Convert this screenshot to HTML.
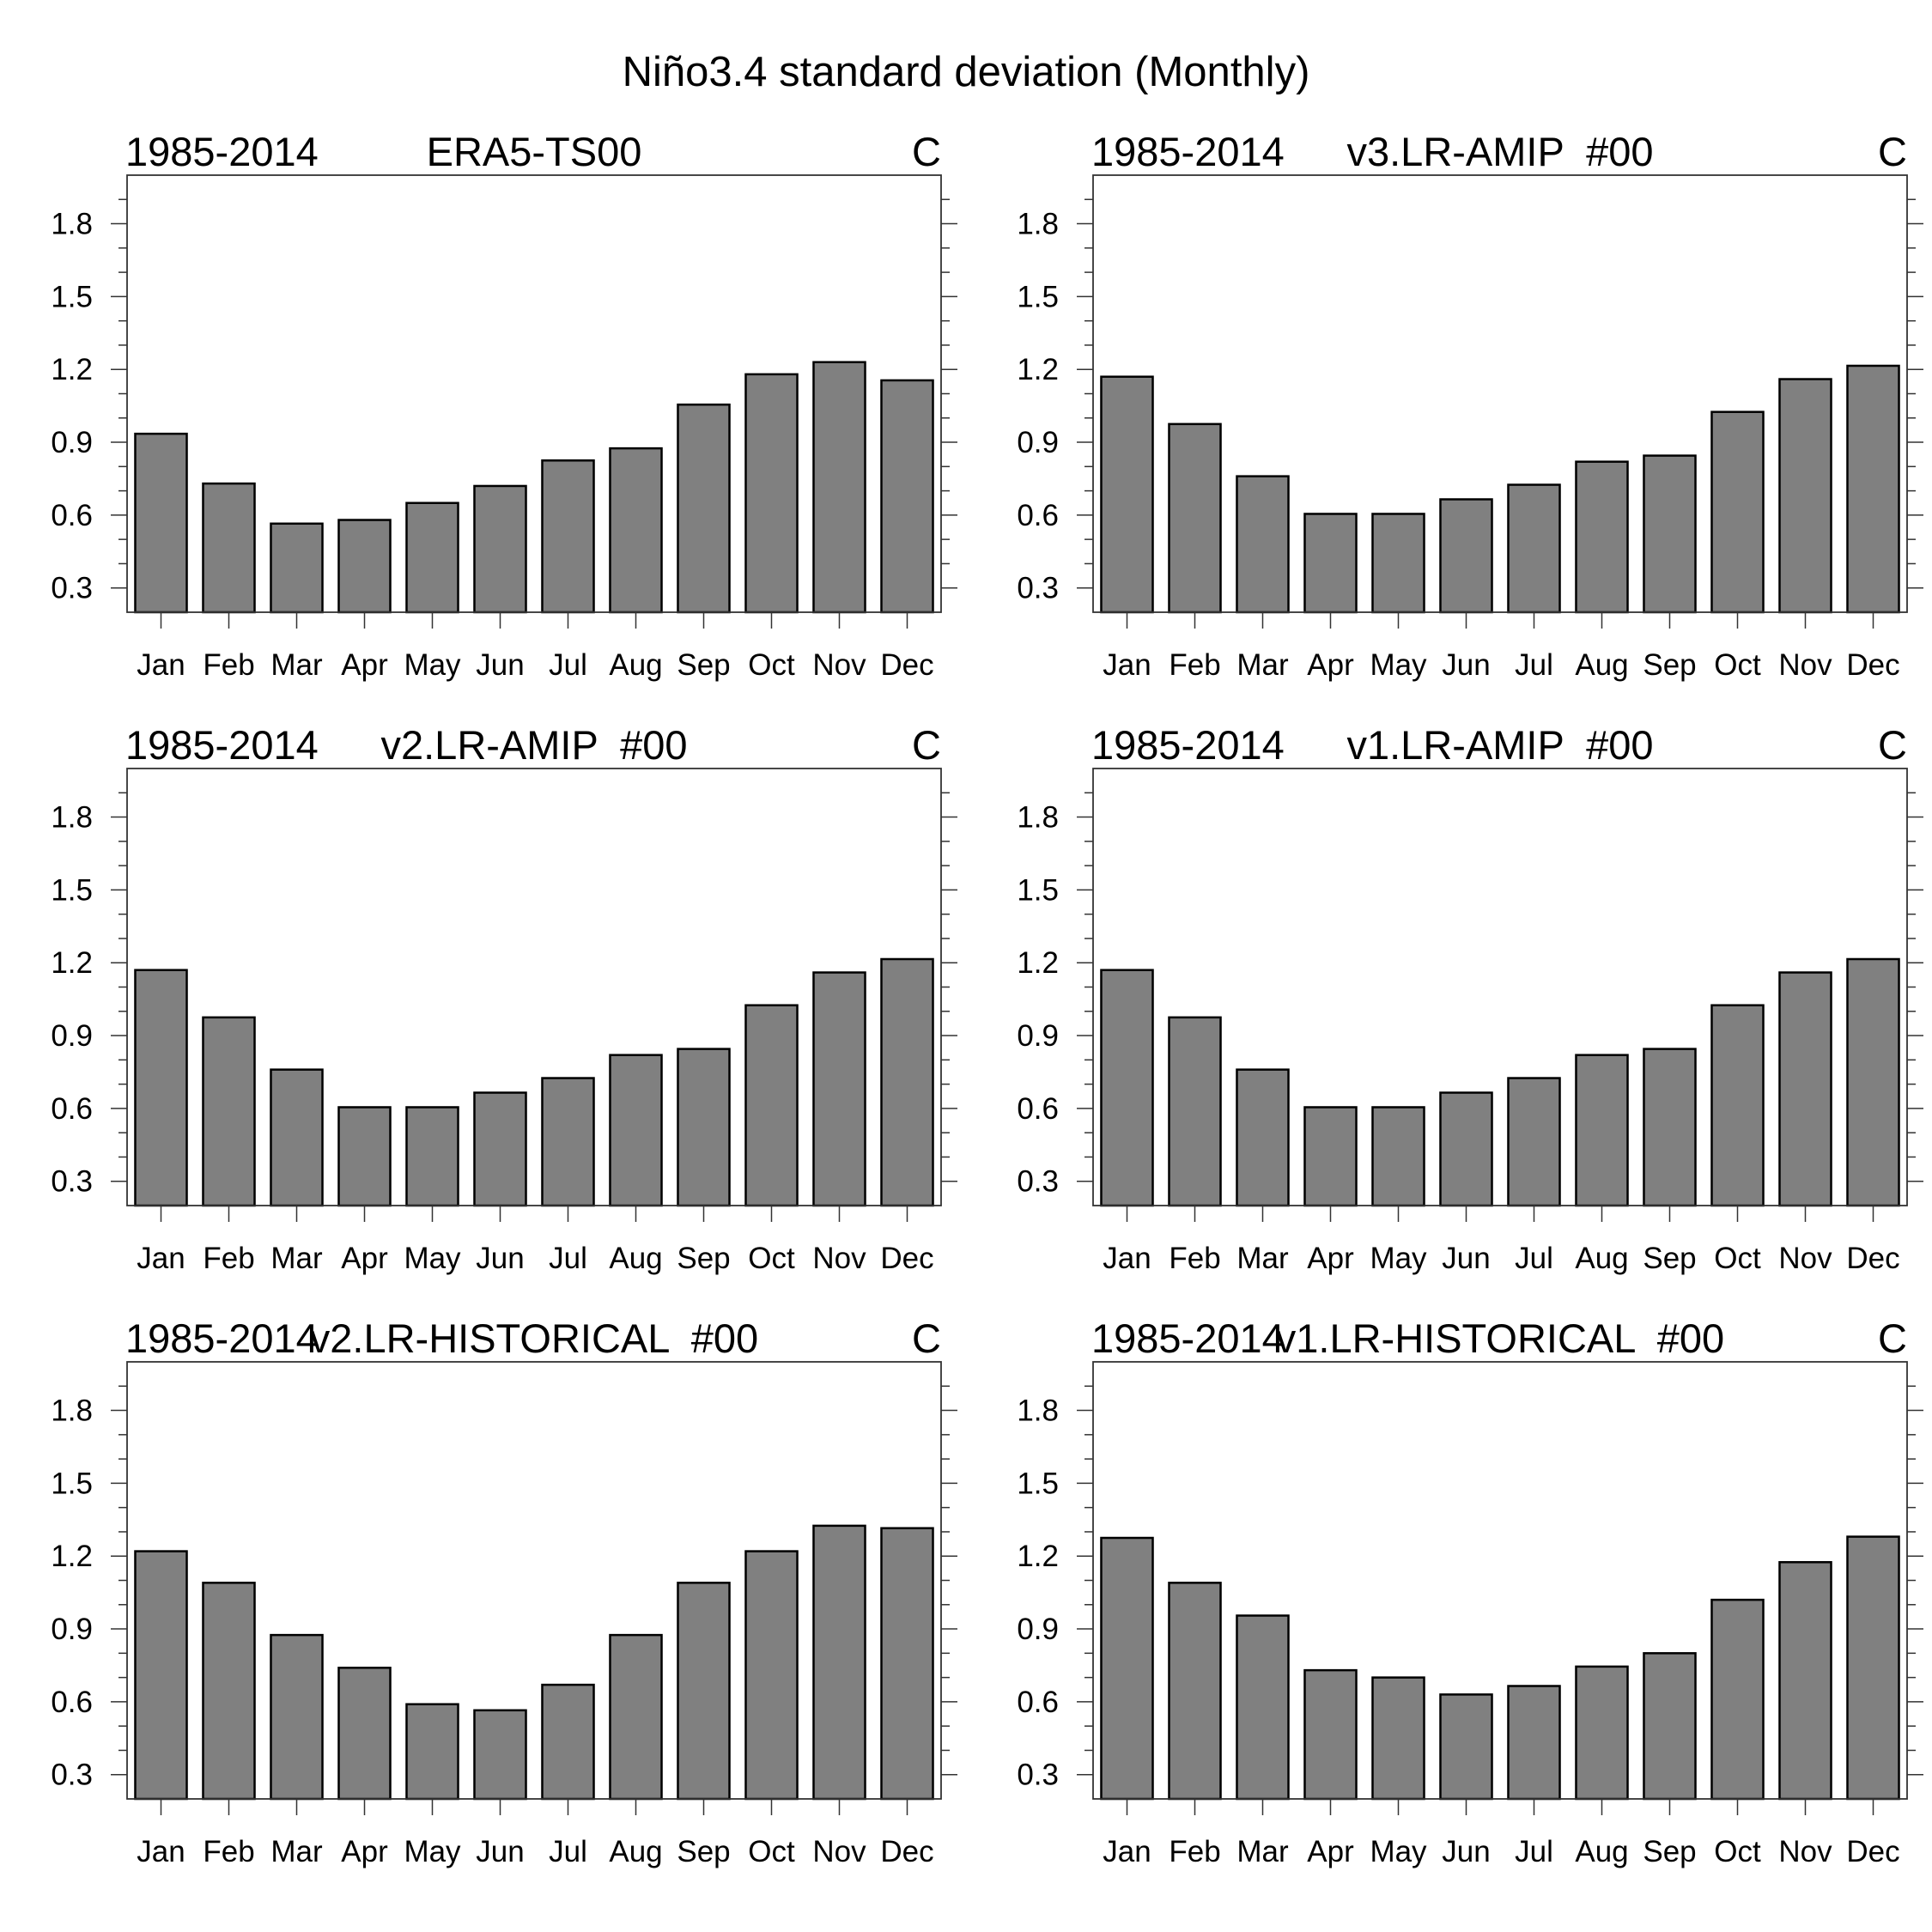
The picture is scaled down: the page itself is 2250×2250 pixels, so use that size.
<!DOCTYPE html>
<html><head><meta charset="utf-8"><style>
html,body{margin:0;padding:0;background:#fff;}
svg{display:block;font-family:"Liberation Sans",sans-serif;}
text{white-space:pre;}
</style></head><body>
<svg id="chart" width="2250" height="2250" viewBox="0 0 2250 2250" xmlns="http://www.w3.org/2000/svg" xml:space="preserve">
<text x="1125" y="100" text-anchor="middle" font-size="49">Niño3.4 standard deviation (Monthly)</text>
</svg>
<script>
const months = ["Jan","Feb","Mar","Apr","May","Jun","Jul","Aug","Sep","Oct","Nov","Dec"];
const panelTitles = ["ERA5-TS00","v3.LR-AMIP  #00","v2.LR-AMIP  #00","v1.LR-AMIP  #00","v2.LR-HISTORICAL  #00","v1.LR-HISTORICAL  #00"];
const era5Values = [0.935,0.73,0.565,0.58,0.65,0.72,0.825,0.875,1.055,1.18,1.23,1.155];
const v3AmipValues = [1.17,0.975,0.76,0.605,0.605,0.665,0.725,0.82,0.845,1.025,1.16,1.215];
const v2AmipValues = [1.17,0.975,0.76,0.605,0.605,0.665,0.725,0.82,0.845,1.025,1.16,1.215];
const v1AmipValues = [1.17,0.975,0.76,0.605,0.605,0.665,0.725,0.82,0.845,1.025,1.16,1.215];
const v2HistValues = [1.22,1.09,0.875,0.74,0.59,0.565,0.67,0.875,1.09,1.22,1.325,1.315];
const v1HistValues = [1.275,1.09,0.955,0.73,0.70,0.63,0.665,0.745,0.80,1.02,1.175,1.28];
const yTickLabels = ["0.3","0.6","0.9","1.2","1.5","1.8"];
const yMin = 0.2, yMax = 2.0;

const series = [era5Values,v3AmipValues,v2AmipValues,v1AmipValues,v2HistValues,v1HistValues];
const NS = "http://www.w3.org/2000/svg";
const svg = document.getElementById("chart");
function mk(tag, attrs, parent){
  const e = document.createElementNS(NS, tag);
  for (const k in attrs) e.setAttribute(k, attrs[k]);
  parent.appendChild(e);
  return e;
}
const lefts = [148,1273], tops = [204,895,1586];
const W = 948, H = 509;
series.forEach((vals, p) => {
  const L = lefts[p%2], T = tops[Math.floor(p/2)], B = T+H, R = L+W;
  const g = mk("g", {}, svg);
  
  
  const yS = v => B - (v - yMin)/(yMax - yMin)*H;
  const slot = W/12;
  const xS = i => L + slot*(i+0.5);
  let t = mk("text", {x:L-2, y:T-11, "font-size":47}, g);
  t.textContent = "1985-2014";
  
  
  t = mk("text", {x:L+W/2, y:T-11, "font-size":47, "text-anchor":"middle"}, g);
  t.textContent = panelTitles[p];
  
  
  t = mk("text", {x:R, y:T-11, "font-size":47, "text-anchor":"end"}, g);
  t.textContent = "C";
  
  
  vals.forEach((v,i) => {
    const bw = slot*0.76;
    const r = mk("rect", {x:xS(i)-bw/2, y:yS(v), width:bw, height:B-yS(v), fill:"#808080", stroke:"#000", "stroke-width":2.5}, g);
    
    
  });
  const f = mk("rect", {x:L, y:T, width:W, height:H, fill:"none", stroke:"#333", "stroke-width":1.8}, g);
  
  
  for (let k=3; k<=19; k++){
    const v = k/10, y = yS(v);
    const major = (k%3===0);
    const len = major?19:10;
    mk("line",{x1:L,x2:L-len,y1:y,y2:y,stroke:"#333","stroke-width":1.5},g);
    mk("line",{x1:R,x2:R+len,y1:y,y2:y,stroke:"#333","stroke-width":1.5},g);
  }
  yTickLabels.forEach(s => {
    const lb = mk("text",{x:L-40,y:yS(parseFloat(s))+12,"font-size":35,"text-anchor":"end"},g);
    lb.textContent = s;
    
    
  });
  months.forEach((m,i) => {
    mk("line",{x1:xS(i),x2:xS(i),y1:B,y2:B+19,stroke:"#333","stroke-width":1.5},g);
    const lb = mk("text",{x:xS(i),y:B+73,"font-size":35,"text-anchor":"middle"},g);
    lb.textContent = m;
    
    
  });
});
</script>
</body></html>
